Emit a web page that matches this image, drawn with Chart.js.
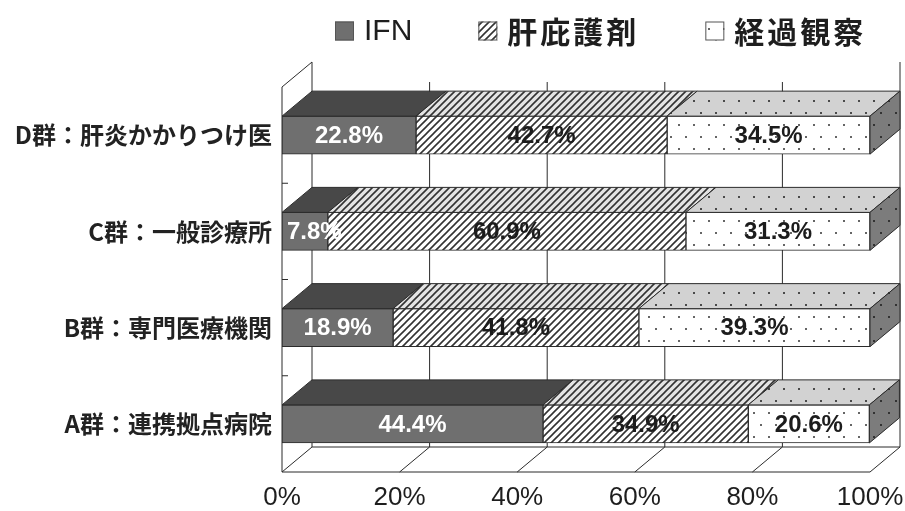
<!DOCTYPE html>
<html>
<head>
<meta charset="UTF-8">
<title>治療方針の内訳</title>
<script src="https://cdn.jsdelivr.net/npm/chart.js"></script>
<style>
  body { margin: 0; background: #fff; }
  #wrap { width: 905px; height: 511px; }
</style>
</head>
<body>
<div id="wrap"><canvas id="chart" width="905" height="511"></canvas></div>
<script>
// 群ごとの治療方針の割合 (%)
const groups = ['D群：肝炎かかりつけ医', 'C群：一般診療所', 'B群：専門医療機関', 'A群：連携拠点病院'];
const seriesNames = ['IFN', '肝庇護剤', '経過観察'];
const ifnValues = [22.8, 7.8, 18.9, 44.4];
const hepatoValues = [42.7, 60.9, 41.8, 34.9];
const observeValues = [34.5, 31.3, 39.3, 20.6];
const xTicks = [0, 20, 40, 60, 80, 100];

// 3D の奥行き (px)
const DX = 30, DY = 25;
const INK = '#2b2b2b';

const canvas = document.getElementById('chart');
const mainCtx = canvas.getContext('2d');

function makePattern(w, h, bg, draw) {
  const c = document.createElement('canvas');
  c.width = w; c.height = h;
  const g = c.getContext('2d');
  g.fillStyle = bg;
  g.fillRect(0, 0, w, h);
  draw(g);
  return mainCtx.createPattern(c, 'repeat');
}
function hatch(bg, ink) {
  return makePattern(7, 7, bg, g => {
    g.strokeStyle = ink;
    g.lineWidth = 1.6;
    g.beginPath();
    g.moveTo(-1, 8); g.lineTo(8, -1);
    g.moveTo(-2, 2); g.lineTo(2, -2);
    g.moveTo(5, 9); g.lineTo(9, 5);
    g.stroke();
  });
}
function dots(bg, ink) {
  return makePattern(15, 24, bg, g => {
    g.fillStyle = ink;
    g.fillRect(3, 4, 2, 2);
    g.fillRect(10, 16, 2, 2);
  });
}

const faces = [
  { front: '#6f6f6f', top: '#484848', side: '#3d3d3d' },
  { front: hatch('#ffffff', '#333'), top: hatch('#e4e4e4', '#333'), side: hatch('#999', '#222') },
  { front: dots('#ffffff', '#666'), top: dots('#d2d2d2', '#4a4a4a'), side: dots('#7c7c7c', '#333') }
];

function line(ctx, x1, y1, x2, y2) {
  ctx.beginPath();
  ctx.moveTo(x1, y1);
  ctx.lineTo(x2, y2);
  ctx.stroke();
}
function poly(ctx, pts, fill) {
  ctx.beginPath();
  pts.forEach(([px, py], i) => i ? ctx.lineTo(px, py) : ctx.moveTo(px, py));
  ctx.closePath();
  ctx.fillStyle = fill;
  ctx.fill();
  ctx.stroke();
}

// 壁・床と棒の上面・側面
const box3d = {
  id: 'box3d',
  beforeDatasetsDraw(chart) {
    const { ctx, chartArea: a, scales: { x } } = chart;
    ctx.save();
    ctx.strokeStyle = INK;
    ctx.lineWidth = 1;
    xTicks.forEach(v => {
      const fx = x.getPixelForValue(v);
      const top = (v === xTicks[0] || v === xTicks[xTicks.length - 1]) ? a.top - DY : a.top - 5;
      line(ctx, fx + DX, top, fx + DX, a.bottom - DY);
      line(ctx, fx + DX, a.bottom - DY, fx, a.bottom);
    });
    line(ctx, a.left + DX, a.bottom - DY, a.right + DX, a.bottom - DY);
    line(ctx, a.left, a.bottom, a.right, a.bottom);
    line(ctx, a.left, a.top, a.left, a.bottom);
    line(ctx, a.left, a.top, a.left + DX, a.top - DY);
    const band = (a.bottom - a.top) / groups.length;
    for (let k = 1; k < groups.length; k++) {
      line(ctx, a.left, a.top + k * band, a.left + 6, a.top + k * band);
    }
    ctx.restore();
  },
  afterDatasetsDraw(chart) {
    const { ctx } = chart;
    const last = chart.data.datasets.length - 1;
    ctx.save();
    ctx.strokeStyle = INK;
    ctx.lineWidth = 1;
    chart.data.datasets.forEach((ds, di) => {
      chart.getDatasetMeta(di).data.forEach(bar => {
        const { x: xe, y, base, height } = bar.getProps(['x', 'y', 'base', 'height'], true);
        const t = y - height / 2, b = y + height / 2;
        poly(ctx, [[base, t], [xe, t], [xe + DX, t - DY], [base + DX, t - DY]], faces[di].top);
        if (di === last) {
          poly(ctx, [[xe, t], [xe + DX, t - DY], [xe + DX, b - DY], [xe, b]], faces[di].side);
        }
      });
    });
    // 値ラベル
    ctx.font = 'bold 24px "Liberation Sans", Arial, sans-serif';
    ctx.textAlign = 'center';
    ctx.textBaseline = 'middle';
    chart.data.datasets.forEach((ds, di) => {
      ctx.fillStyle = di === 0 ? '#ffffff' : '#1c1c1c';
      chart.getDatasetMeta(di).data.forEach((bar, i) => {
        const { x: xe, y, base } = bar.getProps(['x', 'y', 'base'], true);
        const text = ds.data[i].toFixed(1) + '%';
        const w = ctx.measureText(text).width;
        const cx = Math.max((base + xe) / 2, base + 5 + w / 2);
        ctx.fillText(text, cx, y + 1);
      });
    });
    ctx.restore();
  },
  afterDraw(chart) {
    // 凡例
    const { ctx } = chart;
    const ly = 31;
    let lx = 335;
    ctx.save();
    ctx.textBaseline = 'middle';
    ctx.textAlign = 'left';
    chart.data.datasets.forEach((ds, i) => {
      ctx.fillStyle = faces[i].front;
      ctx.fillRect(lx, ly - 9.5, 19, 19);
      ctx.strokeStyle = '#555';
      ctx.lineWidth = 1;
      ctx.strokeRect(lx + 0.5, ly - 9, 18, 18);
      lx += 29;
      if (i === 0) {
        ctx.font = '30px "Liberation Sans", Arial, sans-serif';
        ctx.letterSpacing = '0px';
      } else {
        ctx.font = 'bold 30px "Noto Sans CJK JP", sans-serif';
        ctx.letterSpacing = '3px';
      }
      ctx.fillStyle = '#1e1e1e';
      ctx.fillText(ds.label, lx, ly + 1);
      lx += ctx.measureText(ds.label).width + 66;
    });
    ctx.restore();
  }
};

const seriesValues = [ifnValues, hepatoValues, observeValues];

new Chart(mainCtx, {
  type: 'bar',
  data: {
    labels: groups,
    datasets: seriesNames.map((name, i) => ({
      label: name,
      data: seriesValues[i],
      backgroundColor: faces[i].front,
      borderColor: INK,
      borderWidth: 1,
      borderSkipped: false,
      barThickness: 38
    }))
  },
  options: {
    indexAxis: 'y',
    responsive: false,
    animation: false,
    devicePixelRatio: 1,
    layout: { padding: { left: 0, right: 35, top: 87, bottom: 0 } },
    plugins: {
      legend: { display: false },
      tooltip: { enabled: false }
    },
    scales: {
      x: {
        stacked: true,
        min: 0,
        max: 100,
        afterBuildTicks: s => { s.ticks = xTicks.map(v => ({ value: v })); },
        afterFit: s => {
          s.height = 39;
          s.paddingLeft = 0;
          s.paddingRight = 0;
        },
        ticks: {
          callback: v => v + '%',
          font: { family: '"Liberation Sans", Arial, sans-serif', size: 26 },
          color: '#1e1e1e',
          padding: 10,
          maxRotation: 0
        },
        grid: { display: false, drawTicks: false },
        border: { display: false }
      },
      y: {
        stacked: true,
        afterFit: s => { s.width = 282; },
        ticks: {
          font: { family: '"Noto Sans CJK JP", sans-serif', size: 24, weight: 'bold' },
          color: '#222',
          padding: 10
        },
        grid: { display: false, drawTicks: false },
        border: { display: false }
      }
    }
  },
  plugins: [box3d]
});
</script>
</body>
</html>
